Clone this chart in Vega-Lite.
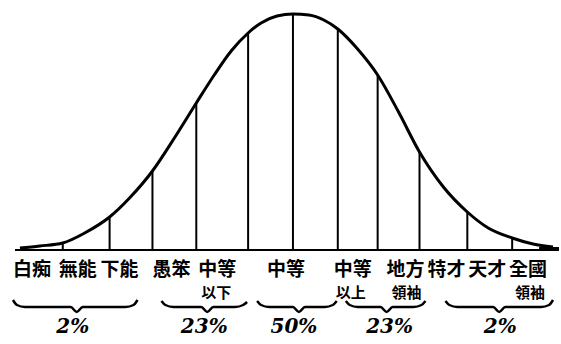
{
  "$schema": "https://vega.github.io/schema/vega-lite/v6.json",
  "width": 561,
  "height": 344,
  "padding": 0,
  "autosize": {"type": "fit", "contains": "padding"},
  "background": "white",
  "config": {"view": {"stroke": null}},
  "encoding": {
    "x": {"field": "x", "type": "quantitative", "scale": {"domain": [0, 561]}, "axis": null},
    "y": {"field": "h", "type": "quantitative", "scale": {"domain": [-94, 250]}, "axis": null}
  },
  "datasets": {
    "baseline": [
      {"part": "line", "x": 15, "x2": 561, "h": 0},
      {"part": "end", "x": 541, "x2": 561, "h": 1}
    ],
    "curve": [
      {"x": 20, "h": 2}, {"x": 40, "h": 4}, {"x": 63, "h": 7}, {"x": 85, "h": 17},
      {"x": 110, "h": 33}, {"x": 130, "h": 52}, {"x": 153, "h": 79}, {"x": 175, "h": 112},
      {"x": 197, "h": 147}, {"x": 215, "h": 175}, {"x": 232, "h": 199}, {"x": 249, "h": 217},
      {"x": 262, "h": 227}, {"x": 278, "h": 234}, {"x": 294, "h": 236}, {"x": 310, "h": 235},
      {"x": 325, "h": 230}, {"x": 339, "h": 221}, {"x": 358, "h": 202}, {"x": 379, "h": 175},
      {"x": 400, "h": 138}, {"x": 421, "h": 98}, {"x": 445, "h": 63}, {"x": 469, "h": 38},
      {"x": 490, "h": 22}, {"x": 514, "h": 12}, {"x": 535, "h": 6}, {"x": 555, "h": 3}
    ],
    "dividers": [
      {"x": 63, "h": 0, "top": 7}, {"x": 110, "h": 0, "top": 33}, {"x": 153, "h": 0, "top": 79},
      {"x": 197, "h": 0, "top": 147}, {"x": 249, "h": 0, "top": 217}, {"x": 294, "h": 0, "top": 236},
      {"x": 339, "h": 0, "top": 221}, {"x": 379, "h": 0, "top": 175}, {"x": 421, "h": 0, "top": 98},
      {"x": 469, "h": 0, "top": 38}, {"x": 514, "h": 0, "top": 12}
    ],
    "labels": [
      {"label": "白痴", "x": 32, "row": 1, "h": -20},
      {"label": "無能", "x": 78, "row": 1, "h": -20},
      {"label": "下能", "x": 120, "row": 1, "h": -20},
      {"label": "愚笨", "x": 172, "row": 1, "h": -20},
      {"label": "中等", "x": 218, "row": 1, "h": -20},
      {"label": "以下", "x": 217, "row": 2, "h": -43},
      {"label": "中等", "x": 287, "row": 1, "h": -20},
      {"label": "中等", "x": 354, "row": 1, "h": -20},
      {"label": "以上", "x": 352, "row": 2, "h": -43},
      {"label": "地方", "x": 407, "row": 1, "h": -20},
      {"label": "領袖", "x": 408, "row": 2, "h": -43},
      {"label": "特才", "x": 448, "row": 1, "h": -20},
      {"label": "天才", "x": 489, "row": 1, "h": -20},
      {"label": "全國", "x": 530, "row": 1, "h": -20},
      {"label": "領袖", "x": 532, "row": 2, "h": -43}
    ],
    "braces": [
      {"g": "a", "x": 13, "h": -50}, {"g": "a", "x": 17, "h": -55}, {"g": "a", "x": 25, "h": -57},
      {"g": "a", "x": 71, "h": -57}, {"g": "a", "x": 77, "h": -62}, {"g": "a", "x": 83, "h": -57},
      {"g": "a", "x": 126, "h": -57}, {"g": "a", "x": 134, "h": -55}, {"g": "a", "x": 138, "h": -50},
      {"g": "b", "x": 162, "h": -51}, {"g": "b", "x": 166, "h": -55}, {"g": "b", "x": 174, "h": -57},
      {"g": "b", "x": 202, "h": -57}, {"g": "b", "x": 208, "h": -62}, {"g": "b", "x": 214, "h": -57},
      {"g": "b", "x": 236, "h": -57}, {"g": "b", "x": 244, "h": -55}, {"g": "b", "x": 248, "h": -52},
      {"g": "c", "x": 258, "h": -51}, {"g": "c", "x": 262, "h": -55}, {"g": "c", "x": 270, "h": -57},
      {"g": "c", "x": 294, "h": -57}, {"g": "c", "x": 300, "h": -62}, {"g": "c", "x": 306, "h": -57},
      {"g": "c", "x": 326, "h": -57}, {"g": "c", "x": 334, "h": -55}, {"g": "c", "x": 338, "h": -51},
      {"g": "d", "x": 347, "h": -51}, {"g": "d", "x": 351, "h": -55}, {"g": "d", "x": 359, "h": -57},
      {"g": "d", "x": 382, "h": -57}, {"g": "d", "x": 388, "h": -62}, {"g": "d", "x": 394, "h": -57},
      {"g": "d", "x": 415, "h": -57}, {"g": "d", "x": 423, "h": -55}, {"g": "d", "x": 427, "h": -51},
      {"g": "e", "x": 447, "h": -51}, {"g": "e", "x": 451, "h": -55}, {"g": "e", "x": 459, "h": -57},
      {"g": "e", "x": 495, "h": -57}, {"g": "e", "x": 501, "h": -62}, {"g": "e", "x": 507, "h": -57},
      {"g": "e", "x": 543, "h": -57}, {"g": "e", "x": 551, "h": -55}, {"g": "e", "x": 555, "h": -50}
    ],
    "percents": [
      {"label": "2%", "x": 73, "h": -77}, {"label": "23%", "x": 205, "h": -77},
      {"label": "50%", "x": 295, "h": -77}, {"label": "23%", "x": 391, "h": -77},
      {"label": "2%", "x": 502, "h": -77}
    ]
  },
  "layer": [
    {
      "data": {"name": "baseline"},
      "transform": [{"filter": "datum.part == 'line'"}],
      "mark": {"type": "rule", "color": "black", "strokeWidth": 2},
      "encoding": {"x2": {"field": "x2"}}
    },
    {
      "data": {"name": "baseline"},
      "transform": [{"filter": "datum.part == 'end'"}],
      "mark": {"type": "rule", "color": "black", "strokeWidth": 4},
      "encoding": {"x2": {"field": "x2"}}
    },
    {
      "data": {"name": "dividers"},
      "mark": {"type": "rule", "color": "black", "strokeWidth": 2},
      "encoding": {"y2": {"field": "top"}}
    },
    {
      "data": {"name": "curve"},
      "mark": {"type": "line", "color": "black", "strokeWidth": 3, "interpolate": "monotone"},
      "encoding": {}
    },
    {
      "data": {"name": "labels"},
      "transform": [{"filter": "datum.row == 1"}],
      "mark": {"type": "text", "font": "Noto Sans CJK TC", "fontWeight": "bold", "fontSize": 19, "baseline": "middle", "align": "center", "color": "black"},
      "encoding": {"text": {"field": "label"}}
    },
    {
      "data": {"name": "labels"},
      "transform": [{"filter": "datum.row == 2"}],
      "mark": {"type": "text", "font": "Noto Sans CJK TC", "fontWeight": "bold", "fontSize": 15, "baseline": "middle", "align": "center", "color": "black"},
      "encoding": {"text": {"field": "label"}}
    },
    {
      "data": {"name": "braces"},
      "mark": {"type": "line", "color": "black", "strokeWidth": 2.5, "interpolate": "monotone"},
      "encoding": {"detail": {"field": "g"}}
    },
    {
      "data": {"name": "percents"},
      "mark": {"type": "text", "font": "DejaVu Serif", "fontStyle": "italic", "fontWeight": "bold", "fontSize": 20, "baseline": "middle", "align": "center", "color": "black"},
      "encoding": {"text": {"field": "label"}}
    }
  ]
}
